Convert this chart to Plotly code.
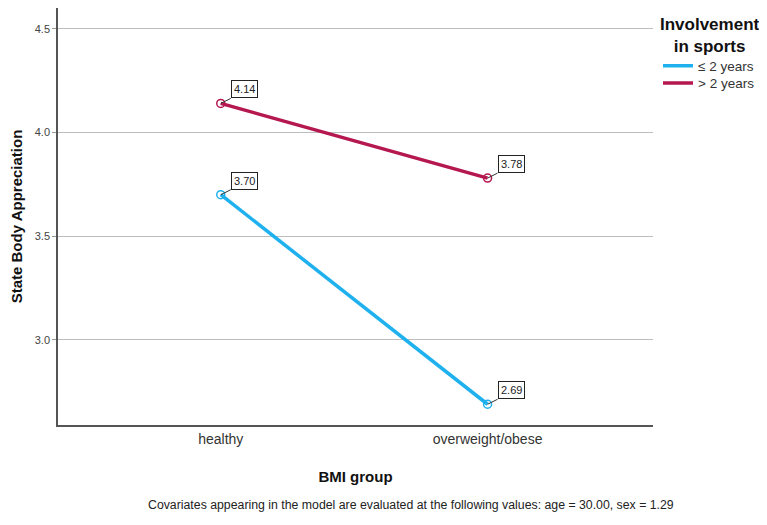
import plotly.graph_objects as go

categories = ["healthy", "overweight/obese"]
series_names = ["≤ 2 years", "> 2 years"]
values_le2 = [3.70, 2.69]
values_gt2 = [4.14, 3.78]
y_ticks = [3.0, 3.5, 4.0, 4.5]
colors = ["#1fb1ee", "#b5174f"]

FONT = "Liberation Sans, Arial, sans-serif"

fig = go.Figure()
for name, vals, col in zip(series_names, [values_le2, values_gt2], colors):
    fig.add_trace(go.Scatter(
        x=categories, y=vals, name=name, mode="lines+markers", showlegend=False,
        line=dict(color=col, width=3.5),
        marker=dict(symbol="circle-open", size=8, color=col, line=dict(width=1.5)),
    ))
    for c, v in zip(categories, vals):
        fig.add_annotation(
            x=c, y=v, text=f"{v:.2f}", showarrow=True, arrowhead=0, arrowwidth=1,
            arrowcolor="#333", ax=10, ay=-5, xanchor="left", yanchor="bottom",
            bordercolor="#222", borderwidth=1, borderpad=2, bgcolor="white",
            font=dict(family=FONT, size=11, color="#222"),
        )
# legend entries (line only, as in the reference)
for i, (name, col) in enumerate(zip(series_names, colors)):
    fig.add_trace(go.Scatter(
        x=[None], y=[None], name=name, mode="lines",
        line=dict(color=col, width=3.5), showlegend=True,
        legend="legend" if i == 0 else "legend2",
    ))

# legend title (centered, two lines)
fig.add_annotation(
    xref="paper", yref="paper", x=1.096, y=0.935, showarrow=False,
    text="<b>Involvement<br>in sports</b>", xanchor="center", yanchor="middle",
    align="center", font=dict(family=FONT, size=17, color="#111"),
)

fig.add_annotation(
    xref="paper", yref="paper", x=0.594, y=-0.192, showarrow=False,
    text="Covariates appearing in the model are evaluated at the following values: age = 30.00, sex = 1.29",
    font=dict(family=FONT, size=12.3, color="#222"), xanchor="center", yanchor="middle",
)

fig.update_layout(
    width=767, height=525,
    margin=dict(l=50, r=122, t=0, b=108),
    paper_bgcolor="white", plot_bgcolor="white",
    font=dict(family=FONT, color="#222"),
    xaxis=dict(
        type="category", range=[-0.61, 1.62], showgrid=False, automargin=False,
        showline=True, linecolor="#555", linewidth=1.5, ticks="",
        tickfont=dict(size=14, color="#333"),
        title=dict(text="<b>BMI group</b>", font=dict(size=15, color="#111"), standoff=26),
    ),
    yaxis=dict(
        range=[2.59, 4.60], tickvals=y_ticks, ticktext=[f"{t:.1f}" for t in y_ticks],
        showgrid=True, gridcolor="#bdbdbd", gridwidth=1, automargin=False,
        showline=True, linecolor="#555", linewidth=1.5, ticks="outside", ticklen=4,
        tickcolor="#999", zeroline=False,
        tickfont=dict(size=11, color="#444"),
        title=dict(text="<b>State Body Appreciation</b>", font=dict(size=15, color="#111"), standoff=11),
    ),
    legend=dict(
        x=1.0084, y=0.898, xanchor="left", yanchor="top",
        font=dict(size=13.5, color="#333"), tracegroupgap=0, itemwidth=30,
        bgcolor="rgba(0,0,0,0)",
    ),
    legend2=dict(
        x=1.0084, y=0.857, xanchor="left", yanchor="top",
        font=dict(size=13.5, color="#333"), tracegroupgap=0, itemwidth=30,
        bgcolor="rgba(0,0,0,0)",
    ),
)

fig.write_html("out.html")
